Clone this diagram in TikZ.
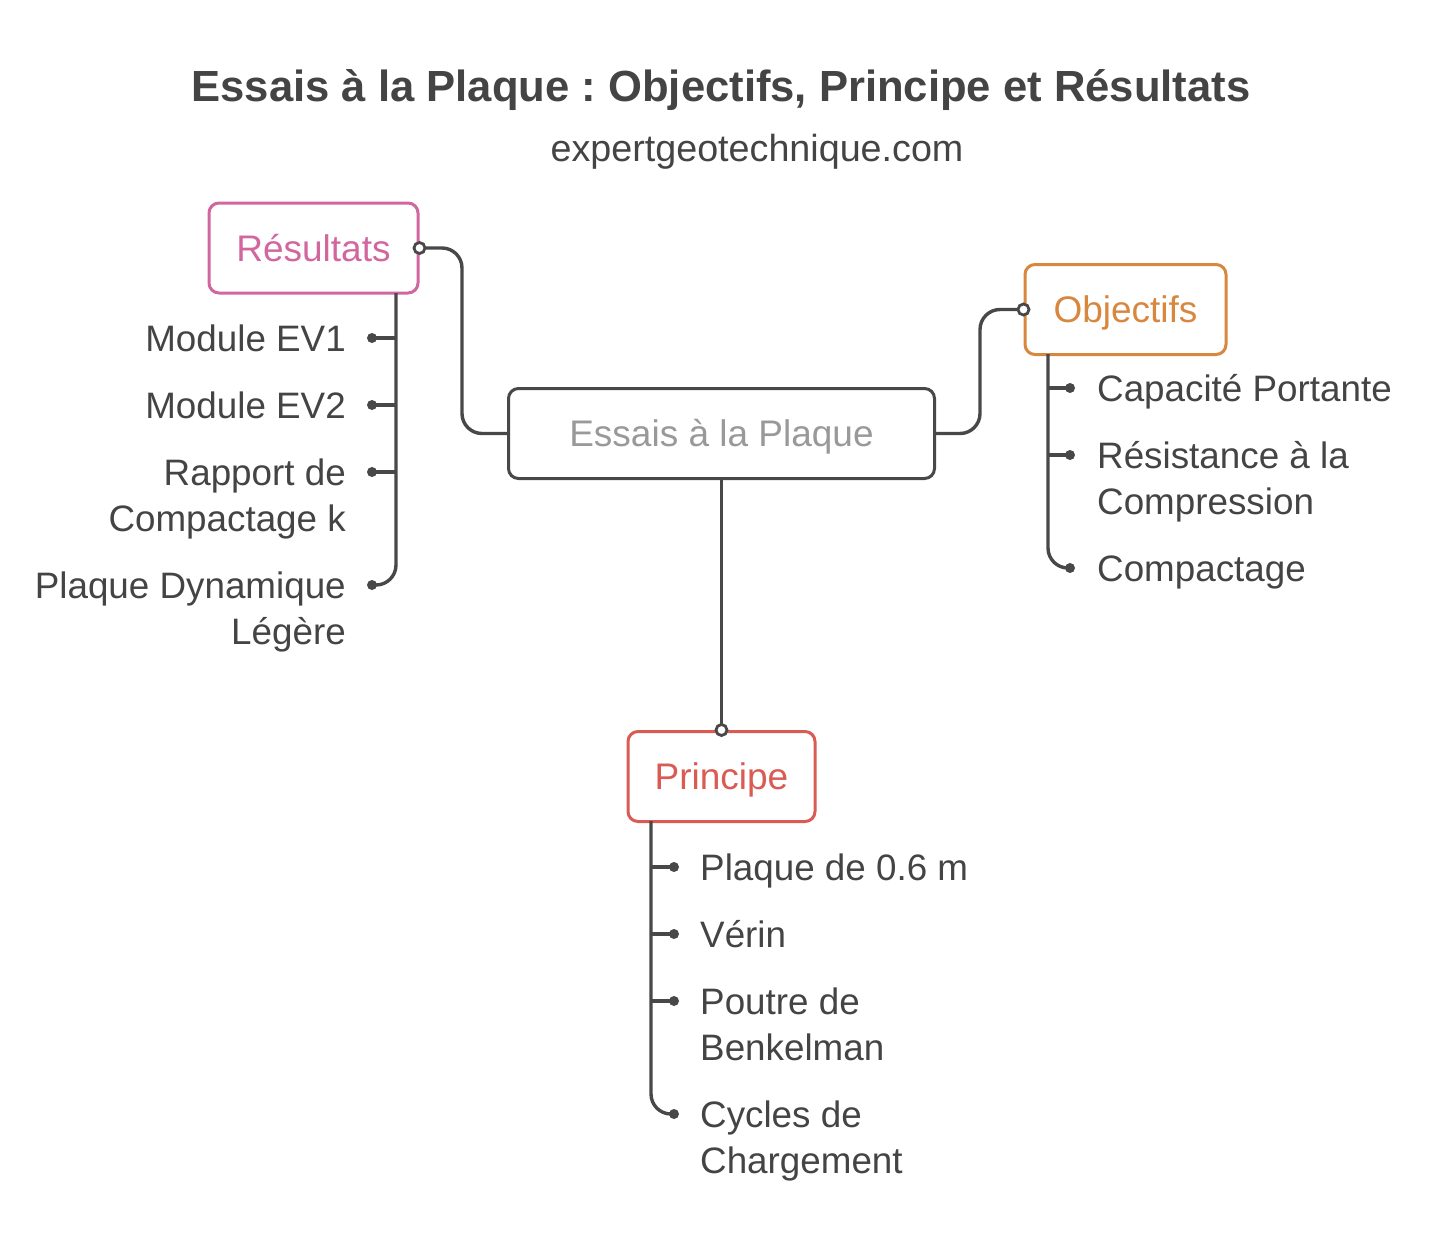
\documentclass[tikz,border=0pt]{standalone}
\usepackage{fontspec}
\setmainfont{Liberation Sans}
\frenchspacing
\definecolor{txt}{HTML}{444444}
\definecolor{ln}{HTML}{484848}
\definecolor{pinkc}{HTML}{D1679E}
\definecolor{orangec}{HTML}{D8873F}
\definecolor{redc}{HTML}{D95B54}
\definecolor{grayt}{HTML}{999999}
\tikzset{
  conn/.style={draw=ln, line width=3.4pt, rounded corners=20pt},
  box/.style={draw, line width=3pt, rounded corners=10pt, minimum height=90pt, inner sep=0pt, text height=26.5pt, text depth=0pt, font=\fontsize{37}{46}\selectfont},
  itemL/.style={anchor=base east, inner sep=0pt, text=txt, align=right, font=\fontsize{36.8}{46}\selectfont},
  itemR/.style={anchor=base west, inner sep=0pt, text=txt, align=left, font=\fontsize{36.8}{46}\selectfont},
  dotc/.style={fill=ln, draw=none},
  opendot/.style={fill=white, draw=ln, line width=2.8pt}
}
\begin{document}
\begin{tikzpicture}[x=1pt,y=-1pt]
\useasboundingbox (0,0) rectangle (1440,1242);
% titles
\node[text=txt, font=\bfseries\fontsize{43.6}{50}\selectfont, inner sep=0pt, anchor=base] (title) at (721,101) {Essais à la Plaque : Objectifs, Principe et Résultats};
\node[text=txt, font=\fontsize{37.7}{44}\selectfont, inner sep=0pt, anchor=base] (sub) at (757,161) {expertgeotechnique.com};
% boxes
\node[box, draw=ln, text=grayt, minimum width=426pt] (ctr) at (721.5,433.5) {Essais à la Plaque};
\node[box, draw=pinkc, text=pinkc, minimum width=209pt] (res) at (313.5,248) {Résultats};
\node[box, draw=orangec, text=orangec, minimum width=201pt] (obj) at (1125.5,309.5) {Objectifs};
\node[box, draw=redc, text=redc, minimum width=187pt] (pri) at (721.5,776.5) {Principe};
% main connectors
\coordinate (c1) at (462,248);
\coordinate (c2) at (462,433.5);
\draw[conn] (res.east) -- (c1) -- (c2) -- (ctr.west);
\coordinate (c3) at (980,433.5);
\coordinate (c4) at (980,309.5);
\draw[conn] (ctr.east) -- (c3) -- (c4) -- (obj.west);
\draw[conn] (ctr.south) -- (pri.north);
\draw[opendot] (res.east) circle (5.5pt);
\draw[opendot] (obj.west) circle (5.5pt);
\draw[opendot] (pri.north) circle (5.5pt);
% Résultats items
\coordinate (rt) at (396,293);
\foreach \n/\y in {1/338,2/405,3/472,4/585}{\coordinate (rd\n) at (372,\y); \coordinate (rj\n) at (396,\y);}
\draw[conn] (rt) -- (rj4) -- (rd4);
\foreach \n in {1,2,3}{\draw[conn] (rj\n) -- (rd\n);}
\foreach \n in {1,2,3,4}{\fill[dotc] (rd\n) circle (5pt);}
\node[itemL] (r1) at (346,351) {Module EV1};
\node[itemL] (r2) at (346,418) {Module EV2};
\node[itemL] (r3) at (346,531) {Rapport de\\Compactage k};
\node[itemL] (r4) at (346,644) {Plaque Dynamique\\Légère};
% Objectifs items
\coordinate (ot) at (1048,354);
\foreach \n/\y in {1/388,2/455,3/568}{\coordinate (od\n) at (1070,\y); \coordinate (oj\n) at (1048,\y);}
\draw[conn] (ot) -- (oj3) -- (od3);
\foreach \n in {1,2}{\draw[conn] (oj\n) -- (od\n);}
\foreach \n in {1,2,3}{\fill[dotc] (od\n) circle (5pt);}
\node[itemR] (o1) at (1097,401) {Capacité Portante};
\node[itemR] (o2) at (1097,514) {Résistance à la\\Compression};
\node[itemR] (o3) at (1097,581) {Compactage};
% Principe items
\coordinate (pt) at (651,821);
\foreach \n/\y in {1/867,2/934,3/1001,4/1114}{\coordinate (pd\n) at (674,\y); \coordinate (pj\n) at (651,\y);}
\draw[conn] (pt) -- (pj4) -- (pd4);
\foreach \n in {1,2,3}{\draw[conn] (pj\n) -- (pd\n);}
\foreach \n in {1,2,3,4}{\fill[dotc] (pd\n) circle (5pt);}
\node[itemR] (p1) at (700,880) {Plaque de 0.6 m};
\node[itemR] (p2) at (700,947) {Vérin};
\node[itemR] (p3) at (700,1060) {Poutre de\\Benkelman};
\node[itemR] (p4) at (700,1173) {Cycles de\\Chargement};
\end{tikzpicture}
\end{document}
